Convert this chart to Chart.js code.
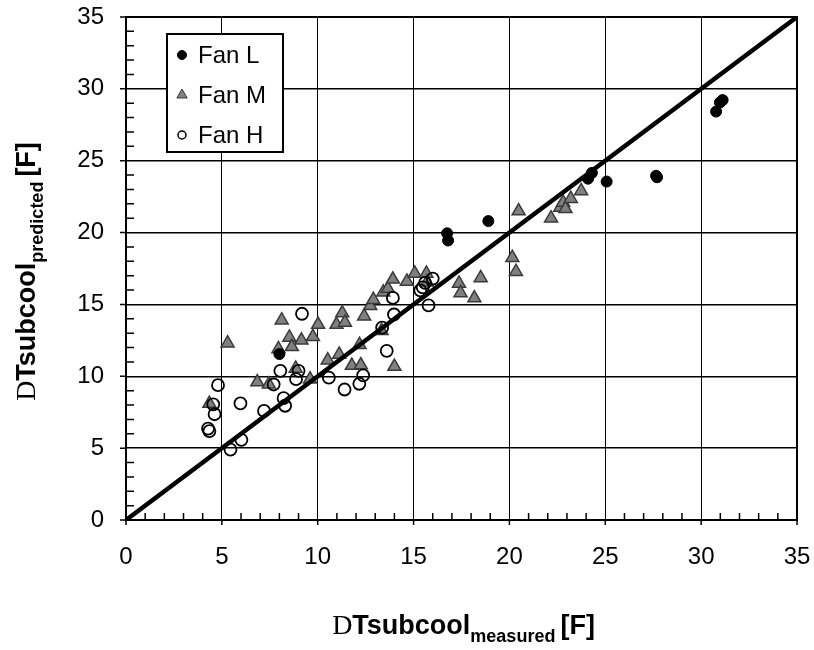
<!DOCTYPE html>
<html>
<head>
<meta charset="utf-8">
<script src="https://cdn.jsdelivr.net/npm/chart.js@4.4.1/dist/chart.umd.min.js"></script>
<style>html,body{margin:0;padding:0;background:#fff}</style>
</head>
<body>
<canvas id="c" width="814" height="650"></canvas>
<script>
// axis range / ticks
const AXIS_MIN = 0, AXIS_MAX = 35, MAJOR_STEP = 5, MINOR_STEP = 1;

// [measured, predicted]
const fanL = [
  [8.0,11.55],[16.75,19.95],[16.8,19.45],[18.9,20.8],[24.1,23.75],[24.3,24.15],
  [25.07,23.55],[27.65,23.95],[27.7,23.85],[30.78,28.42],[30.98,29.05],[31.12,29.22]
];
const fanM = [
  [4.35,8.1],[5.3,12.3],[6.85,9.6],[7.45,9.45],[7.95,11.9],[8.12,13.9],[8.52,12.7],
  [8.65,12.05],[8.85,10.55],[9.15,12.5],[9.6,9.8],[9.75,12.75],[10.02,13.6],[10.52,11.12],
  [10.98,13.6],[11.12,11.52],[11.28,14.4],[11.42,13.75],[11.78,10.75],[12.18,12.2],
  [12.25,10.78],[12.42,14.18],[12.74,14.9],[12.9,15.33],[13.33,13.16],[13.42,15.85],
  [13.66,16.1],[13.92,16.75],[14.0,10.68],[14.65,16.6],[15.06,17.16],[15.67,17.16],
  [15.7,16.55],[17.37,16.46],[17.45,15.8],[18.17,15.44],[18.5,16.84],[20.15,18.25],
  [20.34,17.28],[20.48,21.5],[22.17,21.0],[22.65,21.75],[22.8,22.1],[22.92,21.65],
  [23.2,22.36],[23.74,22.9]
];
const fanH = [
  [4.28,6.36],[4.35,6.18],[4.55,8.05],[4.62,7.36],[4.8,9.38],[5.45,4.9],[5.97,8.12],
  [6.02,5.58],[7.2,7.59],[7.7,9.43],[8.05,10.38],[8.22,8.48],[8.3,7.95],[8.87,9.8],
  [9.0,10.38],[9.18,14.35],[10.58,9.9],[11.4,9.08],[12.17,9.48],[12.37,10.07],
  [13.36,13.38],[13.6,11.77],[13.92,15.45],[13.98,14.3],[15.35,15.98],[15.48,16.18],
  [15.6,16.5],[15.78,14.93],[16.0,16.8]
];
const parityLine = [[0,0],[35,35]];

const FONT = '"Liberation Sans", Arial, sans-serif';
const SERIF = '"Liberation Serif", "Times New Roman", serif';
const toXY = arr => arr.map(([x, y]) => ({ x, y }));

// border, minor ticks inside, major ticks outside
const framePlugin = {
  id: 'frame',
  beforeDatasetsDraw(chart){
    const { ctx, chartArea: a, scales: { x, y } } = chart;
    ctx.save();
    ctx.strokeStyle = '#000';
    ctx.lineWidth = 2;
    ctx.strokeRect(a.left, a.top, a.right - a.left, a.bottom - a.top);
    ctx.lineWidth = 1.5;
    ctx.beginPath();
    for (let v = AXIS_MIN; v <= AXIS_MAX; v += MINOR_STEP){
      const px = x.getPixelForValue(v), py = y.getPixelForValue(v);
      if (v % MAJOR_STEP === 0){
        ctx.moveTo(px, a.bottom); ctx.lineTo(px, a.bottom + 5);
        ctx.moveTo(a.left - 6, py); ctx.lineTo(a.left, py);
      } else {
        ctx.moveTo(px, a.bottom); ctx.lineTo(px, a.bottom - 7);
        ctx.moveTo(a.left, py); ctx.lineTo(a.left + 8, py);
      }
    }
    ctx.stroke();
    ctx.restore();
  }
};

function drawParts(ctx, parts){
  let w = 0;
  parts.forEach(p => { ctx.font = p.f; p.w = ctx.measureText(p.t).width; w += p.w; });
  let cx = -w / 2;
  parts.forEach(p => { ctx.font = p.f; ctx.fillText(p.t, cx, p.dy); cx += p.w; });
}

function titleParts(sub){
  return [
    { t: 'D', f: '28px ' + SERIF, dy: 0 },
    { t: 'Tsubcool', f: 'bold 27px ' + FONT, dy: 0 },
    { t: sub + ' ', f: 'bold 18px ' + FONT, dy: 8 },
    { t: '[F]', f: 'bold 27px ' + FONT, dy: 0 }
  ];
}

const titlesPlugin = {
  id: 'titles',
  afterDraw(chart){
    const { ctx, chartArea: a } = chart;
    ctx.save();
    ctx.fillStyle = '#000';
    ctx.textBaseline = 'alphabetic';
    ctx.textAlign = 'left';
    ctx.save();
    ctx.translate((a.left + a.right) / 2 + 2, 634);
    drawParts(ctx, titleParts('measured'));
    ctx.restore();
    ctx.save();
    ctx.translate(35, (a.top + a.bottom) / 2 + 3);
    ctx.rotate(-Math.PI / 2);
    drawParts(ctx, titleParts('predicted'));
    ctx.restore();
    ctx.restore();
  }
};

// boxed legend inside the plot, top left
const legendBoxPlugin = {
  id: 'legendBox',
  afterDraw(chart){
    const { ctx } = chart;
    const bx = 167, by = 34, bw = 116, bh = 118;
    ctx.save();
    ctx.fillStyle = '#fff';
    ctx.fillRect(bx, by, bw, bh);
    ctx.strokeStyle = '#000';
    ctx.lineWidth = 2;
    ctx.strokeRect(bx, by, bw, bh);
    const items = chart.data.datasets.filter(d => d.legend);
    items.forEach((d, i) => {
      const cy = by + 21 + i * 40;
      ctx.fillStyle = d.backgroundColor;
      ctx.strokeStyle = d.borderColor;
      ctx.lineWidth = d.legend.bw;
      Chart.helpers.drawPoint(ctx, { pointStyle: d.pointStyle, radius: d.legend.r, borderWidth: d.legend.bw, rotation: 0 }, 182, cy);
      ctx.fillStyle = '#000';
      ctx.font = '24px ' + FONT;
      ctx.textBaseline = 'middle';
      ctx.textAlign = 'left';
      ctx.fillText(d.label, 198, cy + 1);
    });
    ctx.restore();
  }
};

new Chart(document.getElementById('c'), {
  type: 'scatter',
  data: {
    datasets: [
      { label: 'parity', data: toXY(parityLine), showLine: true, borderColor: '#000',
        borderWidth: 4.5, pointRadius: 0, order: 0 },
      { label: 'Fan L', data: toXY(fanL), pointStyle: 'circle', pointRadius: 5.5,
        backgroundColor: '#000', borderColor: '#000', borderWidth: 1, order: 2,
        legend: { r: 4.5, bw: 1 } },
      { label: 'Fan M', data: toXY(fanM), pointStyle: 'triangle', pointRadius: 7.5,
        backgroundColor: '#808080', borderColor: '#3a3a3a', borderWidth: 1.5, order: 3,
        legend: { r: 6, bw: 1 } },
      { label: 'Fan H', data: toXY(fanH), pointStyle: 'circle', pointRadius: 6,
        backgroundColor: 'rgba(255,255,255,0)', borderColor: '#000', borderWidth: 1.8, order: 1,
        legend: { r: 4, bw: 1.5 } }
    ]
  },
  options: {
    responsive: false,
    animation: false,
    layout: { padding: { top: 17, right: 17, left: 0, bottom: 0 } },
    plugins: { legend: { display: false }, tooltip: { enabled: false } },
    scales: {
      x: {
        type: 'linear', min: AXIS_MIN, max: AXIS_MAX,
        ticks: { stepSize: MAJOR_STEP, color: '#000', font: { family: FONT, size: 24 }, padding: 23, maxRotation: 0 },
        grid: { color: '#000', lineWidth: 1, drawTicks: false },
        border: { display: true, color: '#000', width: 2 },
        afterFit(s){ s.height = 130; s.paddingLeft = 0; s.paddingRight = 0; }
      },
      y: {
        type: 'linear', min: AXIS_MIN, max: AXIS_MAX,
        ticks: { stepSize: MAJOR_STEP, color: '#000', font: { family: FONT, size: 24 }, padding: 22 },
        grid: { color: '#000', lineWidth: 1.5, drawTicks: false },
        border: { display: true, color: '#000', width: 2 },
        afterFit(s){ s.width = 126; s.paddingTop = 0; s.paddingBottom = 0; }
      }
    }
  },
  plugins: [framePlugin, titlesPlugin, legendBoxPlugin]
});
</script>
</body>
</html>
